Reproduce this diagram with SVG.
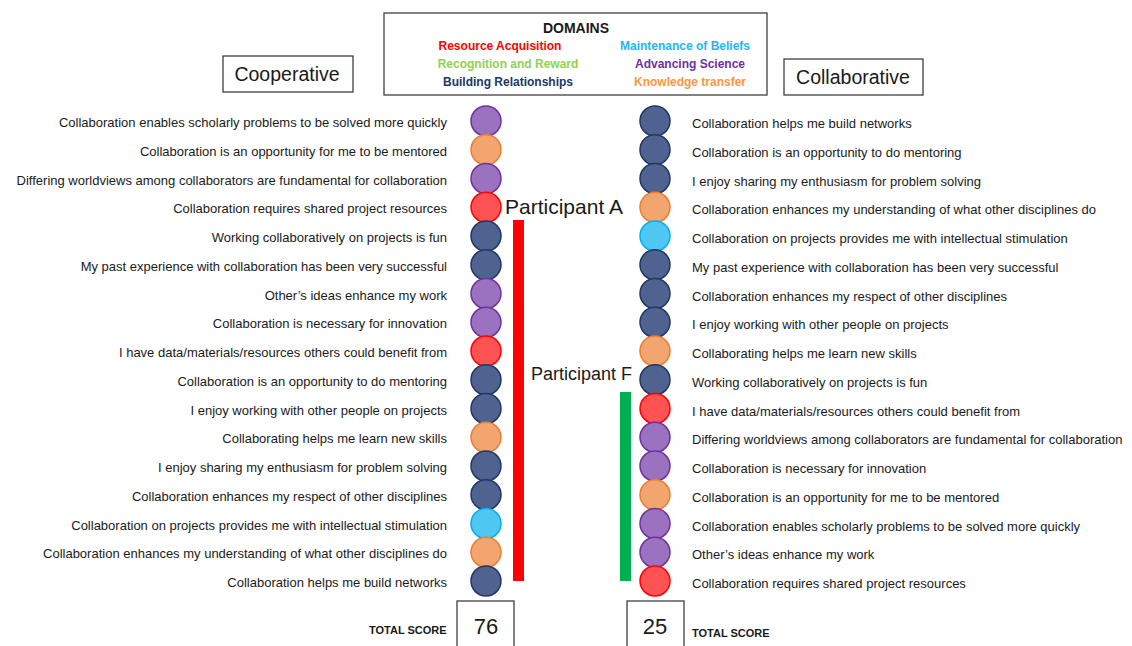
<svg xmlns="http://www.w3.org/2000/svg" width="1132" height="646" viewBox="0 0 1132 646">
<style>
  text { font-family: "Liberation Sans", Arial, sans-serif; fill: #1a1a1a; }
  .lbl { font-size: 13px; }
  .l { text-anchor: end; }
  .box { fill: #fff; stroke: #404040; stroke-width: 1.3; }
  .leg { font-size: 12px; font-weight: bold; text-anchor: middle; }
  .pu { fill: #9a72bf; stroke: #7030a0; stroke-width: 1.5; }
  .or { fill: #f2a56f; stroke: #ed7d31; stroke-width: 1.5; }
  .rd { fill: #ff5253; stroke: #ff0000; stroke-width: 1.5; }
  .nv { fill: #4f6290; stroke: #1f3864; stroke-width: 1.5; }
  .lb { fill: #4fc7f3; stroke: #00b0f0; stroke-width: 1.5; }
  .ts { font-size: 11px; font-weight: bold; }
  .num { font-size: 22px; text-anchor: middle; }
</style>
<rect width="1132" height="646" fill="#fff"/>

<g id="legend">
  <rect class="box" x="384" y="13" width="383" height="82"/>
  <text class="leg" x="576" y="33" style="font-size:14px">DOMAINS</text>
  <text class="leg" x="500" y="50" style="fill:#ff0000">Resource Acquisition</text>
  <text class="leg" x="685" y="50" style="fill:#1cb9f2">Maintenance of Beliefs</text>
  <text class="leg" x="508" y="68" style="fill:#92d050">Recognition and Reward</text>
  <text class="leg" x="690" y="68" style="fill:#7030a0">Advancing Science</text>
  <text class="leg" x="508" y="86" style="fill:#203864">Building Relationships</text>
  <text class="leg" x="690" y="86" style="fill:#f79646">Knowledge transfer</text>
</g>

<g id="cooperative-title">
  <rect class="box" x="223" y="56" width="130" height="36"/>
  <text x="287" y="81" style="font-size:19.5px;text-anchor:middle">Cooperative</text>
</g>
<g id="collaborative-title">
  <rect class="box" x="784" y="59" width="139" height="36"/>
  <text x="853" y="84" style="font-size:19.5px;text-anchor:middle">Collaborative</text>
</g>

<g id="cooperative-items">
  <circle class="pu" cx="486" cy="121" r="15"/>
  <circle class="or" cx="486" cy="149.75" r="15"/>
  <circle class="pu" cx="486" cy="178.5" r="15"/>
  <circle class="rd" cx="486" cy="207.25" r="15"/>
  <circle class="nv" cx="486" cy="236" r="15"/>
  <circle class="nv" cx="486" cy="264.75" r="15"/>
  <circle class="pu" cx="486" cy="293.5" r="15"/>
  <circle class="pu" cx="486" cy="322.25" r="15"/>
  <circle class="rd" cx="486" cy="351" r="15"/>
  <circle class="nv" cx="486" cy="379.75" r="15"/>
  <circle class="nv" cx="486" cy="408.5" r="15"/>
  <circle class="or" cx="486" cy="437.25" r="15"/>
  <circle class="nv" cx="486" cy="466" r="15"/>
  <circle class="nv" cx="486" cy="494.75" r="15"/>
  <circle class="lb" cx="486" cy="523.5" r="15"/>
  <circle class="or" cx="486" cy="552.25" r="15"/>
  <circle class="nv" cx="486" cy="581" r="15"/>
  <text class="lbl l" x="447" y="127">Collaboration enables scholarly problems to be solved more quickly</text>
  <text class="lbl l" x="447" y="155.75">Collaboration is an opportunity for me to be mentored</text>
  <text class="lbl l" x="447" y="184.5">Differing worldviews among collaborators are fundamental for collaboration</text>
  <text class="lbl l" x="447" y="213.25">Collaboration requires shared project resources</text>
  <text class="lbl l" x="447" y="242">Working collaboratively on projects is fun</text>
  <text class="lbl l" x="447" y="270.75">My past experience with collaboration has been very successful</text>
  <text class="lbl l" x="447" y="299.5">Other’s ideas enhance my work</text>
  <text class="lbl l" x="447" y="328.25">Collaboration is necessary for innovation</text>
  <text class="lbl l" x="447" y="357">I have data/materials/resources others could benefit from</text>
  <text class="lbl l" x="447" y="385.75">Collaboration is an opportunity to do mentoring</text>
  <text class="lbl l" x="447" y="414.5">I enjoy working with other people on projects</text>
  <text class="lbl l" x="447" y="443.25">Collaborating helps me learn new skills</text>
  <text class="lbl l" x="447" y="472">I enjoy sharing my enthusiasm for problem solving</text>
  <text class="lbl l" x="447" y="500.75">Collaboration enhances my respect of other disciplines</text>
  <text class="lbl l" x="447" y="529.5">Collaboration on projects provides me with intellectual stimulation</text>
  <text class="lbl l" x="447" y="558.25">Collaboration enhances my understanding of what other disciplines do</text>
  <text class="lbl l" x="447" y="587">Collaboration helps me build networks</text>
</g>

<g id="collaborative-items">
  <circle class="nv" cx="655" cy="121" r="15"/>
  <circle class="nv" cx="655" cy="149.75" r="15"/>
  <circle class="nv" cx="655" cy="178.5" r="15"/>
  <circle class="or" cx="655" cy="207.25" r="15"/>
  <circle class="lb" cx="655" cy="236" r="15"/>
  <circle class="nv" cx="655" cy="264.75" r="15"/>
  <circle class="nv" cx="655" cy="293.5" r="15"/>
  <circle class="nv" cx="655" cy="322.25" r="15"/>
  <circle class="or" cx="655" cy="351" r="15"/>
  <circle class="nv" cx="655" cy="379.75" r="15"/>
  <circle class="rd" cx="655" cy="408.5" r="15"/>
  <circle class="pu" cx="655" cy="437.25" r="15"/>
  <circle class="pu" cx="655" cy="466" r="15"/>
  <circle class="or" cx="655" cy="494.75" r="15"/>
  <circle class="pu" cx="655" cy="523.5" r="15"/>
  <circle class="pu" cx="655" cy="552.25" r="15"/>
  <circle class="rd" cx="655" cy="581" r="15"/>
  <text class="lbl" x="692" y="128">Collaboration helps me build networks</text>
  <text class="lbl" x="692" y="156.75">Collaboration is an opportunity to do mentoring</text>
  <text class="lbl" x="692" y="185.5">I enjoy sharing my enthusiasm for problem solving</text>
  <text class="lbl" x="692" y="214.25">Collaboration enhances my understanding of what other disciplines do</text>
  <text class="lbl" x="692" y="243">Collaboration on projects provides me with intellectual stimulation</text>
  <text class="lbl" x="692" y="271.75">My past experience with collaboration has been very successful</text>
  <text class="lbl" x="692" y="300.5">Collaboration enhances my respect of other disciplines</text>
  <text class="lbl" x="692" y="329.25">I enjoy working with other people on projects</text>
  <text class="lbl" x="692" y="358">Collaborating helps me learn new skills</text>
  <text class="lbl" x="692" y="386.75">Working collaboratively on projects is fun</text>
  <text class="lbl" x="692" y="415.5">I have data/materials/resources others could benefit from</text>
  <text class="lbl" x="692" y="444.25">Differing worldviews among collaborators are fundamental for collaboration</text>
  <text class="lbl" x="692" y="473">Collaboration is necessary for innovation</text>
  <text class="lbl" x="692" y="501.75">Collaboration is an opportunity for me to be mentored</text>
  <text class="lbl" x="692" y="530.5">Collaboration enables scholarly problems to be solved more quickly</text>
  <text class="lbl" x="692" y="559.25">Other’s ideas enhance my work</text>
  <text class="lbl" x="692" y="588">Collaboration requires shared project resources</text>
</g>

<g id="participant-a">
  <rect x="513" y="220" width="11" height="361" fill="#ff0000"/>
  <text x="505" y="214" style="font-size:21px">Participant A</text>
</g>
<g id="participant-f">
  <rect x="620" y="392" width="11" height="189" fill="#00b050"/>
  <text x="531" y="380" style="font-size:18px">Participant F</text>
</g>

<g id="total-left">
  <rect class="box" x="457" y="601" width="57" height="50"/>
  <text class="num" x="486" y="634">76</text>
  <text class="ts" x="369" y="634">TOTAL SCORE</text>
</g>
<g id="total-right">
  <rect class="box" x="627" y="601" width="57" height="50"/>
  <text class="num" x="655" y="634">25</text>
  <text class="ts" x="692" y="637">TOTAL SCORE</text>
</g>
</svg>
